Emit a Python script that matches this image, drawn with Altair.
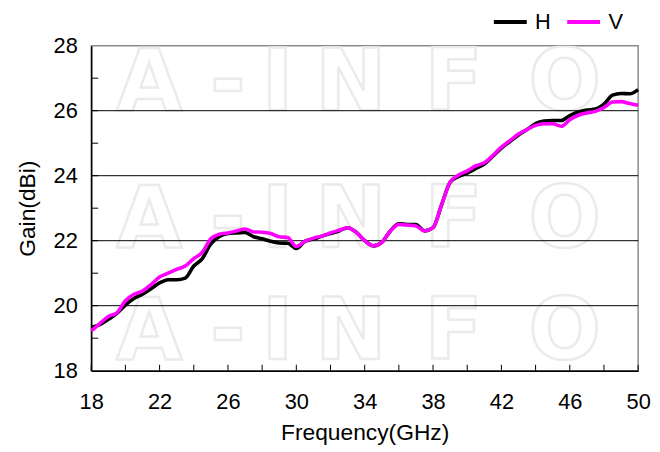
import altair as alt
import pandas as pd

# ---- data ----
freq = [18.0, 18.5, 19.0, 19.5, 20.0, 20.5, 21.0, 21.5, 22.0, 22.5, 23.0, 23.5, 24.0, 24.5,
        25.0, 25.5, 26.0, 26.5, 27.0, 27.5, 28.0, 28.5, 29.0, 29.5, 30.0, 30.5, 31.0, 31.5,
        32.0, 32.5, 33.0, 33.5, 34.0, 34.5, 35.0, 35.5, 36.0, 36.5, 37.0, 37.5, 38.0, 38.5,
        39.0, 39.5, 40.0, 40.5, 41.0, 41.5, 42.0, 42.5, 43.0, 43.5, 44.0, 44.5, 45.0, 45.5,
        46.0, 46.5, 47.0, 47.5, 48.0, 48.5, 49.0, 49.5, 50.0]
gain_h = [19.33, 19.42, 19.58, 19.76, 20.02, 20.22, 20.35, 20.52, 20.70, 20.80, 20.80, 20.85, 21.22, 21.45,
          21.90, 22.13, 22.22, 22.24, 22.25, 22.12, 22.06, 21.98, 21.93, 21.92, 21.76, 21.98, 22.05, 22.14,
          22.22, 22.30, 22.40, 22.26, 22.00, 21.84, 21.95, 22.30, 22.52, 22.50, 22.50, 22.30, 22.40, 23.10,
          23.80, 23.98, 24.08, 24.22, 24.36, 24.60, 24.85, 25.05, 25.25, 25.42, 25.60, 25.68, 25.70, 25.70,
          25.85, 25.96, 26.02, 26.05, 26.20, 26.48, 26.53, 26.52, 26.65]
gain_v = [19.22, 19.45, 19.67, 19.78, 20.15, 20.35, 20.45, 20.65, 20.88, 21.00, 21.12, 21.22, 21.45, 21.64,
          22.06, 22.20, 22.24, 22.30, 22.36, 22.27, 22.26, 22.22, 22.12, 22.10, 21.82, 21.98, 22.08, 22.14,
          22.24, 22.32, 22.40, 22.26, 22.00, 21.84, 21.95, 22.30, 22.50, 22.48, 22.45, 22.30, 22.40, 23.10,
          23.80, 24.02, 24.15, 24.30, 24.40, 24.62, 24.88, 25.08, 25.28, 25.42, 25.55, 25.60, 25.60, 25.52,
          25.72, 25.86, 25.93, 25.98, 26.10, 26.27, 26.28, 26.22, 26.17]
series = ["H", "V"]
colors = ["#000000", "#ff00ff"]

x_labels = [18, 22, 26, 30, 34, 38, 42, 46, 50]
x_minor = list(range(18, 51, 2))
y_labels = [18, 20, 22, 24, 26, 28]
y_minor = list(range(19, 28))
y_grid = [20, 22, 24, 26]

wm_letters = ["A", "-", "I", "N", "F", "O"]
wm_letter_freq = [21.4, 26.0, 28.9, 33.2, 39.2, 45.7]
wm_row_gain = [26.8, 22.6, 19.15]

FONT = "Liberation Sans"
W, H = 552, 328

n = len(freq)
df = pd.DataFrame({
    "Frequency": freq * 2,
    "Gain": gain_h + gain_v,
    "Pol": ["H"] * n + ["V"] * n,
})

xscale = alt.Scale(domain=[18, 50], nice=False, zero=False)
yscale = alt.Scale(domain=[18, 28], nice=False, zero=False)

xaxis = alt.Axis(values=x_labels, title="Frequency(GHz)", grid=False, ticks=False,
                 labelFontSize=22, labelFont=FONT, labelColor="#000", labelPadding=21,
                 labelFlush=False, labelOverlap=False,
                 titleFontSize=23, titleFont=FONT, titleFontWeight="normal", titleColor="#000",
                 titlePadding=9, domainColor="#000", domainWidth=1.5)
yaxis = alt.Axis(values=y_labels, title="Gain(dBi)", grid=False, ticks=False,
                 labelFontSize=22, labelFont=FONT, labelColor="#000", labelPadding=14,
                 labelFlush=False, labelOverlap=False,
                 titleFontSize=23, titleFont=FONT, titleFontWeight="normal", titleColor="#000",
                 titlePadding=14, domainColor="#000", domainWidth=1.5)

X = alt.X("Frequency:Q", scale=xscale, axis=xaxis)
Y = alt.Y("Gain:Q", scale=yscale, axis=yaxis)

# watermark
wm_rows = []
for g in wm_row_gain:
    for ch, f in zip(wm_letters, wm_letter_freq):
        wm_rows.append({"Frequency": f, "Gain": g, "txt": ch})
wm = alt.Chart(pd.DataFrame(wm_rows)).mark_text(
    font="DejaVu Sans", fontSize=86, fontWeight="bold", fill="transparent", stroke="#ebebeb",
    strokeWidth=2.5, baseline="middle", align="center", clip=True
).encode(x=X, y=Y, text="txt:N")

grid = alt.Chart(pd.DataFrame({"Gain": y_grid})).mark_rule(color="#000", strokeWidth=1).encode(
    y=Y,
)

ytick = alt.Chart(pd.DataFrame({"Gain": y_minor})).mark_rule(color="#000", strokeWidth=1).encode(
    y=Y, x=alt.value(0), x2=alt.value(7),
)

xtick = alt.Chart(pd.DataFrame({"Frequency": x_minor})).mark_rule(color="#000", strokeWidth=1).encode(
    x=X, y=alt.value(H), y2=alt.value(H - 6),
)

lines = alt.Chart(df).mark_line(strokeWidth=3.6, interpolate="monotone").encode(
    x=X, y=Y,
    color=alt.Color("Pol:N", scale=alt.Scale(domain=series, range=colors),
                    legend=alt.Legend(orient="none", legendX=404, legendY=-43,
                                      direction="horizontal", title=None,
                                      symbolType="stroke", symbolStrokeWidth=4,
                                      symbolSize=1100, labelFontSize=22, labelFont=FONT,
                                      labelColor="#000", labelOffset=6, columnPadding=8)),
)

chart = alt.layer(wm, grid, ytick, xtick, lines).properties(
    width=W, height=H,
    autosize=alt.AutoSizeParams(type="none"),
    padding={"left": 84, "top": 36, "right": 14, "bottom": 78},
).configure_view(stroke="#8c8c8c", strokeWidth=1.5)

chart.save("out.html", embed_options={"renderer": "svg", "actions": False})
